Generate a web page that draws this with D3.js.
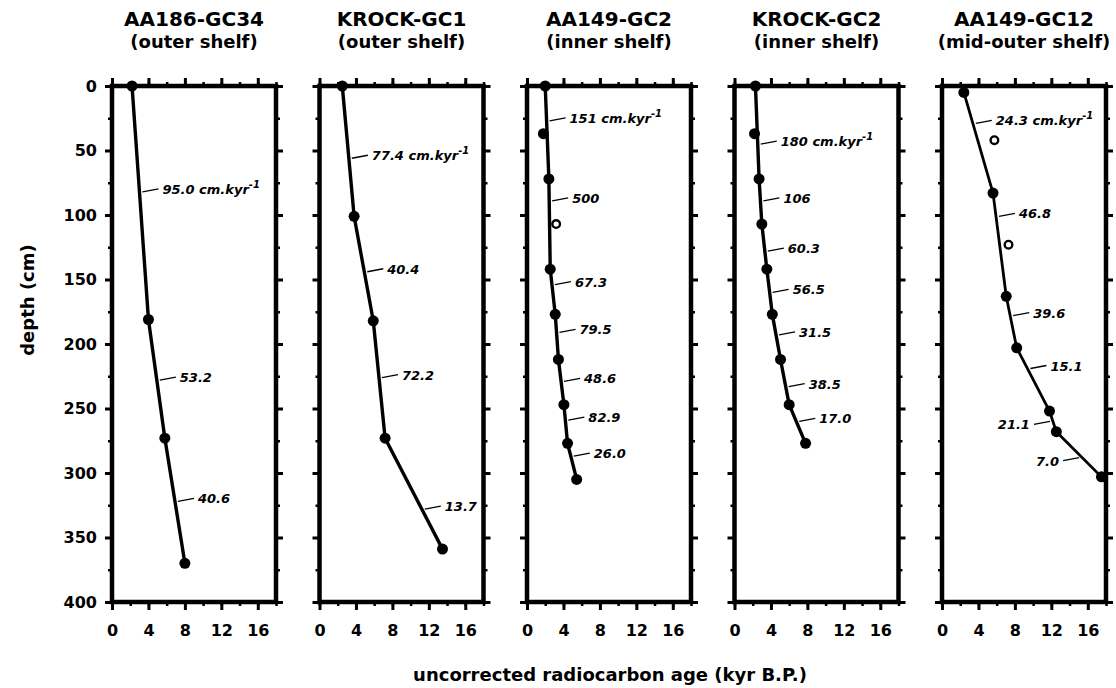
<!DOCTYPE html>
<html>
<head>
<meta charset="utf-8">
<script src="https://cdn.jsdelivr.net/npm/d3@7"></script>
<style>
  body { margin: 0; background: #fff; }
  svg { display: block; font-family: "DejaVu Sans", sans-serif; }
  .title { font-weight: bold; text-anchor: middle; }
  .axis text { font-family: "DejaVu Sans", sans-serif; font-weight: bold; font-size: 16px; fill: #000; }
  .axis line { stroke: #000; }
  .rate { font-style: italic; font-weight: bold; font-size: 13px; }
</style>
</head>
<body>
<div id="chart"></div>
<script>
const chartSize = {width: 1116, height: 688};
const panel = {left: 112, step: 207.5, width: 164, top: 86, bottom: 602};

const cores = ["AA186-GC34", "KROCK-GC1", "AA149-GC2", "KROCK-GC2", "AA149-GC12"];
const shelves = ["(outer shelf)", "(outer shelf)", "(inner shelf)", "(inner shelf)", "(mid-outer shelf)"];
const ageTicks = [0, 4, 8, 12, 16];
const ageMinorTicks = [0, 2, 4, 6, 8, 10, 12, 14, 16, 18];
const depthTicks = [0, 50, 100, 150, 200, 250, 300, 350, 400];
const depthMinorTicks = [25, 75, 125, 175, 225, 275, 325, 375];

// AA186-GC34
const gc34Ages = [2.2, 4.0, 5.8, 8.0];
const gc34Depths = [0, 181, 273, 370];
const gc34Rates = ["95.0", "53.2", "40.6"];
const gc34RateDepths = [82, 228, 322];

// KROCK-GC1
const krock1Ages = [2.5, 3.8, 5.9, 7.2, 13.5];
const krock1Depths = [0, 101, 182, 273, 359];
const krock1Rates = ["77.4", "40.4", "72.2", "13.7"];
const krock1RateDepths = [56, 144, 226, 328];

// AA149-GC2
const gc2Ages = [2.0, 2.4, 2.55, 3.1, 3.45, 4.05, 4.45, 5.45];
const gc2Depths = [0, 72, 142, 177, 212, 247, 277, 305];
const gc2Rates = ["151", "500", "67.3", "79.5", "48.6", "82.9", "26.0"];
const gc2RateDepths = [27, 89, 154, 191, 229, 259, 287];
const gc2OffAges = [1.8];
const gc2OffDepths = [37];
const gc2OpenAges = [3.2];
const gc2OpenDepths = [107];

// KROCK-GC2
const krock2Ages = [2.3, 2.7, 3.0, 3.55, 4.15, 5.05, 6.0, 7.8];
const krock2Depths = [0, 72, 107, 142, 177, 212, 247, 277];
const krock2Rates = ["180", "106", "60.3", "56.5", "31.5", "38.5", "17.0"];
const krock2RateDepths = [45, 89, 128, 160, 193, 233, 260];
const krock2OffAges = [2.2];
const krock2OffDepths = [37];

// AA149-GC12
const gc12Ages = [2.4, 5.6, 7.05, 8.2, 11.8, 12.55, 17.5];
const gc12Depths = [5, 83, 163, 203, 252, 268, 303];
const gc12Rates = ["24.3", "46.8", "39.6", "15.1", "21.1", "7.0"];
const gc12RateDepths = [29, 101, 178, 219, 260, 288];
const gc12RateSides = ["right", "right", "right", "right", "left", "left"];
const gc12OpenAges = [5.75, 7.3];
const gc12OpenDepths = [42, 123];

const series = [
  {ages: gc34Ages, depths: gc34Depths, rates: gc34Rates, rateDepths: gc34RateDepths},
  {ages: krock1Ages, depths: krock1Depths, rates: krock1Rates, rateDepths: krock1RateDepths},
  {ages: gc2Ages, depths: gc2Depths, rates: gc2Rates, rateDepths: gc2RateDepths,
   offAges: gc2OffAges, offDepths: gc2OffDepths, openAges: gc2OpenAges, openDepths: gc2OpenDepths},
  {ages: krock2Ages, depths: krock2Depths, rates: krock2Rates, rateDepths: krock2RateDepths,
   offAges: krock2OffAges, offDepths: krock2OffDepths},
  {ages: gc12Ages, depths: gc12Depths, rates: gc12Rates, rateDepths: gc12RateDepths,
   sides: gc12RateSides, openAges: gc12OpenAges, openDepths: gc12OpenDepths}
];

const zip = (a, b) => (a || []).map((v, i) => [v, b[i]]);

const addAxis = (g, axis, transform, width) => {
  g.append("g")
    .attr("class", "axis")
    .attr("transform", transform)
    .call(axis)
    .call(a => a.select(".domain").remove())
    .call(a => a.selectAll("line").attr("stroke-width", width));
};

const drawPanel = (svg, s, i) => {
  const left = panel.left + i * panel.step;
  const x = d3.scaleLinear().domain([0, 18]).range([left, left + panel.width]);
  const y = d3.scaleLinear().domain([0, 400]).range([panel.top, panel.bottom]);
  const g = svg.append("g");

  // titles
  g.append("text").attr("class", "title")
    .attr("x", left + panel.width / 2).attr("y", 26)
    .style("font-size", "20px")
    .text(cores[i]);
  const sub = g.append("text").attr("class", "title")
    .attr("x", left + panel.width / 2).attr("y", 48)
    .style("font-size", "18px")
    .text(shelves[i]);
  const subW = sub.node().getComputedTextLength();
  if (left + panel.width / 2 + subW / 2 > chartSize.width - 2) {
    sub.attr("x", chartSize.width - 2 - subW / 2);
  }

  // ticks
  addAxis(g, d3.axisTop(x).tickValues(ageMinorTicks).tickSize(4).tickSizeOuter(0).tickFormat(""),
    `translate(0,${panel.top})`, 2.5);
  addAxis(g, d3.axisTop(x).tickValues(ageTicks).tickSize(8).tickSizeOuter(0).tickFormat(""),
    `translate(0,${panel.top})`, 3);
  addAxis(g, d3.axisBottom(x).tickValues(ageMinorTicks).tickSize(4).tickSizeOuter(0).tickFormat(""),
    `translate(0,${panel.bottom})`, 2.5);
  addAxis(g, d3.axisBottom(x).tickValues(ageTicks).tickSize(8).tickSizeOuter(0).tickPadding(15),
    `translate(0,${panel.bottom})`, 3);

  addAxis(g, d3.axisLeft(y).tickValues(depthMinorTicks).tickSize(4).tickSizeOuter(0).tickFormat(""),
    `translate(${left},0)`, 2.5);
  const leftAxis = d3.axisLeft(y).tickValues(depthTicks).tickSize(7).tickSizeOuter(0).tickPadding(8);
  if (i > 0) leftAxis.tickFormat("");
  addAxis(g, leftAxis, `translate(${left},0)`, 3);
  addAxis(g, d3.axisRight(y).tickValues(depthMinorTicks).tickSize(4).tickSizeOuter(0).tickFormat(""),
    `translate(${left + panel.width},0)`, 2.5);
  addAxis(g, d3.axisRight(y).tickValues(depthTicks).tickSize(7).tickSizeOuter(0).tickFormat(""),
    `translate(${left + panel.width},0)`, 3);

  // frame
  g.append("rect")
    .attr("x", x(0)).attr("y", y(0))
    .attr("width", x(18) - x(0)).attr("height", y(400) - y(0))
    .attr("fill", "none").attr("stroke", "#000").attr("stroke-width", 4.5);

  // age-depth line
  const pts = zip(s.ages, s.depths);
  g.append("path")
    .attr("d", d3.line().x(d => x(d[0])).y(d => y(d[1]))(pts))
    .attr("fill", "none").attr("stroke", "#000")
    .attr("stroke-width", i === 4 ? 2.8 : 3.4).attr("stroke-linejoin", "round");

  g.selectAll(".dot")
    .data(pts.concat(zip(s.offAges, s.offDepths)))
    .enter().append("circle")
    .attr("cx", d => x(d[0])).attr("cy", d => y(d[1]))
    .attr("r", 5.5).attr("fill", "#000");

  g.selectAll(".open")
    .data(zip(s.openAges, s.openDepths))
    .enter().append("circle")
    .attr("cx", d => x(d[0])).attr("cy", d => y(d[1]))
    .attr("r", 3.8).attr("fill", "#fff").attr("stroke", "#000").attr("stroke-width", 2.4);

  // rate labels
  const ageAt = d3.scaleLinear().domain(s.depths).range(s.ages);
  s.rates.forEach((r, k) => {
    const d = s.rateDepths[k];
    const lx = x(ageAt(d));
    const ly = y(d);
    const side = s.sides ? s.sides[k] : "right";
    const dir = side === "left" ? -1 : 1;
    g.append("line")
      .attr("x1", lx + 3 * dir).attr("y1", ly)
      .attr("x2", lx + 19 * dir).attr("y2", ly - 3 * dir)
      .attr("stroke", "#000").attr("stroke-width", 1.3);
    const t = g.append("text").attr("class", "rate")
      .attr("x", lx + 23 * dir)
      .attr("y", side === "left" ? ly + 8 : ly + 2)
      .attr("text-anchor", side === "left" ? "end" : "start")
      .text(r);
    if (k === 0) {
      t.append("tspan").text(" cm.kyr");
      t.append("tspan").attr("dy", -6).style("font-size", "10px").text("-1");
    }
  });
};

const main = () => {
  const svg = d3.select("#chart").append("svg")
    .attr("width", chartSize.width)
    .attr("height", chartSize.height);

  series.forEach((s, i) => drawPanel(svg, s, i));

  svg.append("text")
    .attr("class", "title")
    .attr("transform", "translate(34,300) rotate(-90)")
    .style("font-size", "18px")
    .text("depth (cm)");

  svg.append("text")
    .attr("class", "title")
    .attr("x", 610).attr("y", 681)
    .style("font-size", "18px")
    .text("uncorrected radiocarbon age (kyr B.P.)");
};

window.onload = main;
</script>
</body>
</html>
